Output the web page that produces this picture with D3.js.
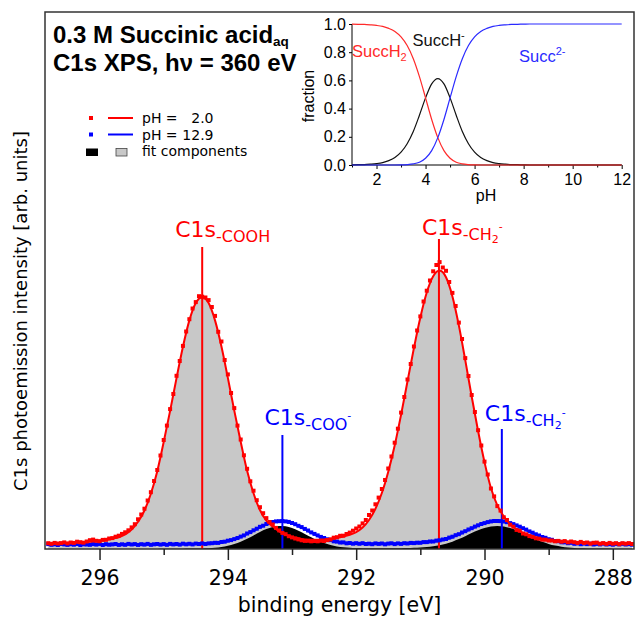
<!DOCTYPE html>
<html>
<head>
<meta charset="utf-8">
<script src="https://d3js.org/d3.v7.min.js"></script>
<style>
body { margin: 0; background: #fff; }
svg { display: block; }
</style>
</head>
<body>
<div id="chart"></div>
<script>
var width = 636;
var height = 619;

// measured points: binding energy grid 296.80 -> 287.70 eV, 0.05 eV steps
var dataStart = 296.8, dataStep = 0.05;
var spectrumPH2 = [
    5.8, 5.2, 6.1, 5.5, 5.9, 6.6, 5.6, 6.5, 6.1, 7.3,
    6.8, 6.3, 7.5, 8.8, 9.4, 8.2, 7.8, 9.1, 9.2, 10.5,
    10.9, 12.3, 13.3, 15.1, 16.7, 18.7, 21.6, 24.8, 29.7, 34.5,
    40.3, 48.5, 56.8, 68.0, 79.0, 93.5, 109.0, 123.4, 139.9, 155.0,
    173.2, 188.0, 203.1, 217.5, 229.8, 240.5, 246.9, 252.8, 252.3, 251.5,
    248.9, 242.0, 233.1, 217.2, 207.5, 189.0, 174.6, 156.0, 140.9, 123.4,
    109.5, 93.7, 80.2, 67.7, 58.3, 48.8, 41.8, 35.8, 30.9, 27.0,
    24.5, 21.1, 18.6, 16.1, 14.8, 12.8, 11.6, 10.5, 9.6, 8.7,
    8.1, 8.2, 7.7, 8.0, 7.7, 8.3, 8.0, 8.9, 9.6, 11.3,
    11.8, 13.2, 13.3, 15.0, 16.4, 18.3, 20.5, 22.5, 25.6, 29.0,
    34.0, 38.5, 44.7, 51.4, 60.0, 69.0, 80.5, 92.5, 106.3, 120.3,
    136.4, 152.0, 169.5, 185.0, 202.5, 218.5, 232.6, 247.5, 258.3, 268.5,
    277.7, 284.0, 286.9, 281.5, 278.2, 267.0, 256.1, 243.0, 226.4, 210.0,
    190.9, 173.0, 154.0, 137.0, 118.8, 103.5, 87.4, 74.5, 60.5, 52.6,
    42.9, 38.4, 31.7, 29.0, 24.3, 22.3, 19.1, 18.2, 15.5, 14.7,
    12.9, 12.1, 10.7, 10.4, 9.4, 9.3, 8.5, 8.5, 7.7, 8.1,
    7.3, 7.9, 6.7, 7.5, 6.8, 6.1, 7.1, 6.1, 6.5, 5.4,
    6.2, 6.4, 5.3, 5.9, 5.1, 6.1, 5.3, 5.8, 4.8, 5.8,
    5.3, 5.9, 5.0
];
var spectrumPH12 = [
    4.9, 4.2, 4.7, 4.0, 5.1, 4.6, 4.1, 4.8, 4.3, 5.0,
    3.9, 4.7, 4.5, 4.2, 4.9, 4.4, 5.1, 4.0, 4.8, 4.3,
    4.6, 5.0, 4.1, 4.7, 4.2, 5.1, 4.5, 4.9, 4.1, 4.8,
    4.4, 5.1, 4.2, 4.7, 5.0, 4.4, 4.9, 4.2, 5.1, 4.6,
    5.0, 4.4, 5.3, 4.7, 5.2, 4.6, 5.4, 5.0, 5.6, 5.0,
    5.6, 5.8, 6.2, 6.1, 7.0, 7.3, 8.3, 8.9, 9.9, 11.0,
    12.4, 13.6, 15.5, 16.9, 18.7, 20.3, 22.2, 23.3, 25.0, 25.9,
    27.0, 27.6, 27.8, 28.0, 27.6, 27.1, 26.0, 24.8, 23.2, 21.9,
    20.1, 18.5, 16.6, 15.1, 13.6, 12.1, 11.0, 9.7, 8.9, 7.7,
    7.4, 6.5, 6.6, 5.7, 6.0, 5.3, 5.8, 5.2, 5.8, 5.0,
    5.3, 4.8, 5.6, 5.1, 5.5, 4.7, 5.4, 5.7, 4.9, 5.6,
    5.1, 5.8, 5.5, 6.1, 5.9, 6.3, 6.2, 6.9, 6.9, 7.5,
    7.5, 8.4, 8.7, 9.5, 10.0, 11.4, 12.3, 13.8, 14.8, 16.5,
    17.8, 19.5, 20.8, 22.4, 23.7, 25.0, 25.9, 26.9, 27.6, 28.0,
    28.0, 27.9, 27.5, 26.8, 25.9, 24.9, 23.6, 22.3, 20.8, 19.4,
    17.6, 16.3, 14.7, 13.5, 12.0, 11.2, 9.8, 9.2, 8.0, 7.8,
    6.7, 6.7, 5.8, 6.2, 5.2, 5.6, 4.8, 5.4, 4.9, 5.4,
    4.5, 5.1, 4.6, 5.3, 4.5, 4.9, 4.3, 5.1, 4.6, 5.2,
    4.5, 4.9, 4.3
];

// fits: 296.8 -> 287.7 eV, 0.1 eV steps
var fitStart = 296.8, fitStep = 0.1;
var fitPH2 = [
    5.5, 5.6, 5.8, 6.1, 6.4, 6.7, 7.1, 7.6, 8.2, 9.0,
    10.3, 11.8, 14.7, 19.4, 27.2, 38.5, 55.3, 77.8, 107.0, 138.1,
    170.9, 202.3, 228.6, 245.9, 251.8, 245.9, 228.6, 202.5, 171.1, 138.4,
    107.3, 78.2, 55.8, 39.0, 28.3, 22.5, 17.6, 14.3, 12.1, 10.8,
    9.6, 9.3, 9.2, 9.5, 10.2, 11.1, 12.4, 14.2, 16.9, 21.4,
    29.0, 40.2, 56.0, 77.3, 103.5, 134.4, 167.7, 201.0, 231.6, 256.5,
    272.7, 278.4, 271.7, 252.6, 223.6, 188.9, 152.5, 118.0, 86.9, 61.0,
    43.7, 32.7, 24.7, 19.7, 16.2, 13.7, 11.6, 10.1, 9.1, 8.2,
    7.6, 7.1, 6.7, 6.4, 6.1, 5.9, 5.7, 5.6, 5.5, 5.4,
    5.4, 5.3
];
var fitPH12 = [
    4.5, 4.5, 4.5, 4.5, 4.5, 4.5, 4.5, 4.5, 4.5, 4.5,
    4.5, 4.5, 4.5, 4.6, 4.6, 4.6, 4.6, 4.6, 4.7, 4.7,
    4.7, 4.8, 4.9, 5.0, 5.1, 5.3, 5.8, 6.5, 7.7, 9.4,
    11.8, 14.8, 18.1, 21.5, 24.4, 26.5, 27.5, 27.2, 25.5, 22.8,
    19.6, 16.2, 13.0, 10.5, 8.5, 7.1, 6.2, 5.8, 5.5, 5.3,
    5.2, 5.2, 5.2, 5.2, 5.2, 5.3, 5.4, 5.7, 6.1, 6.6,
    7.3, 8.3, 9.7, 11.8, 14.4, 17.3, 20.4, 23.2, 25.5, 27.1,
    27.6, 27.0, 25.4, 23.1, 20.3, 17.2, 14.3, 11.7, 9.6, 7.9,
    6.8, 6.0, 5.5, 5.2, 5.1, 5.0, 4.9, 4.9, 4.8, 4.8,
    4.8, 4.7
];
// pH 12.9 fit components (black), without background
var componentsPH12 = [
    0, 0, 0, 0, 0, 0, 0, 0, 0, 0,
    0, 0, 0, 0.1, 0.1, 0.1, 0.1, 0.1, 0.2, 0.2,
    0.2, 0.3, 0.4, 0.5, 0.6, 0.8, 1.3, 2.0, 3.2, 4.9,
    7.3, 10.3, 13.6, 17.0, 19.9, 22.0, 23.0, 22.7, 21.0, 18.3,
    15.1, 11.7, 8.5, 6.0, 4.0, 2.6, 1.7, 1.3, 1.0, 0.8,
    0.7, 0.7, 0.7, 0.7, 0.7, 0.8, 0.9, 1.2, 1.6, 2.1,
    2.8, 3.8, 5.2, 7.3, 9.9, 12.8, 15.9, 18.7, 21.0, 22.6,
    23.1, 22.5, 20.9, 18.6, 15.8, 12.7, 9.8, 7.2, 5.1, 3.4,
    2.3, 1.5, 1.0, 0.7, 0.6, 0.5, 0.4, 0.4, 0.3, 0.3,
    0.3, 0.2
];

var xTicks = [296, 294, 292, 290, 288];
var xMinorTicks = [295, 293, 291, 289];

// inset: speciation vs pH (1 -> 12, 0.25 steps)
var pHStart = 1, pHStep = 0.25;
var fracSuccH2 = [
    0.999, 0.998, 0.997, 0.994, 0.990, 0.983, 0.969, 0.947, 0.908, 0.847,
    0.754, 0.627, 0.476, 0.323, 0.194, 0.102, 0.048, 0.020, 0.008, 0.003,
    0.001, 0, 0, 0, 0, 0, 0, 0, 0, 0,
    0, 0, 0, 0, 0, 0, 0, 0, 0, 0,
    0, 0, 0, 0, 0
];
var fracSuccH = [
    0.001, 0.002, 0.003, 0.006, 0.010, 0.017, 0.031, 0.053, 0.091, 0.151,
    0.238, 0.353, 0.476, 0.575, 0.613, 0.575, 0.476, 0.353, 0.238, 0.151,
    0.091, 0.053, 0.031, 0.017, 0.010, 0.006, 0.003, 0.002, 0.001, 0,
    0, 0, 0, 0, 0, 0, 0, 0, 0, 0,
    0, 0, 0, 0, 0
];
var fracSucc = [
    0, 0, 0, 0, 0, 0, 0, 0, 0.001, 0.003,
    0.008, 0.020, 0.048, 0.102, 0.194, 0.323, 0.476, 0.627, 0.754, 0.847,
    0.908, 0.947, 0.969, 0.983, 0.990, 0.994, 0.997, 0.998, 0.999, 1,
    1, 1, 1, 1, 1, 1, 1, 1, 1, 1,
    1, 1, 1, 1, 1
];
var insetXTicks = [2, 4, 6, 8, 10, 12];
var insetXMinor = [1, 3, 5, 7, 9, 11];
var insetYTicks = [0, 0.2, 0.4, 0.6, 0.8, 1.0];

var RED = "#ff0000", BLUE = "#0000ff", GRAY = "#c8c8c8";
var SANS = "'DejaVu Sans', Verdana, sans-serif";
var HELV = "'Liberation Sans', Arial, Helvetica, sans-serif";

var svg = d3.select("#chart")
    .append("svg")
    .attr("width", width)
    .attr("height", height);

var plot = { left: 45, top: 12, right: 634, bottom: 549 };

var x = d3.scaleLinear().domain([296.85, 287.67]).range([plot.left, plot.right]);
var y = d3.scaleLinear().domain([0, 537]).range([plot.bottom, plot.top]);

function dataE(i) { return dataStart - i * dataStep; }
function fitE(i) { return fitStart - i * fitStep; }

svg.append("clipPath").attr("id", "clip")
    .append("rect")
    .attr("x", plot.left).attr("y", plot.top)
    .attr("width", plot.right - plot.left).attr("height", plot.bottom - plot.top);

var g = svg.append("g").attr("clip-path", "url(#clip)");

var area = d3.area()
    .x(function (d, i) { return x(fitE(i)); })
    .y0(y(0))
    .y1(function (d) { return y(d); })
    .curve(d3.curveMonotoneX);
var line = d3.line()
    .x(function (d, i) { return x(fitE(i)); })
    .y(function (d) { return y(d); })
    .curve(d3.curveMonotoneX);

// fit components
g.append("path").datum(fitPH2).attr("d", area).attr("fill", GRAY);
g.append("path").datum(componentsPH12).attr("d", area).attr("fill", "#000");
g.append("path").datum(fitPH12).attr("d", line)
    .attr("fill", "none").attr("stroke", BLUE).attr("stroke-width", 2);

// peak position markers + labels
function peakMark(E, top, color, dx, dy, parts) {
    svg.append("line")
        .attr("x1", x(E)).attr("x2", x(E))
        .attr("y1", y(top)).attr("y2", y(0))
        .attr("stroke", color).attr("stroke-width", 2);
    var t = svg.append("text")
        .attr("x", x(E) + dx).attr("y", y(top) + dy)
        .attr("fill", color)
        .style("font-family", SANS);
    parts.forEach(function (p) {
        t.append("tspan").text(p[0]).attr("font-size", p[1]).attr("dy", p[2]);
    });
}
peakMark(294.40, 302, RED, -27, -10, [["C1s", 22, 0], ["-COOH", 16, 5]]);
peakMark(290.71, 310, RED, -17, -4, [["C1s", 22, 0], ["-CH", 16, 5], ["2", 11, 3], ["-", 11, -13]]);
peakMark(293.15, 114, BLUE, -18, -10, [["C1s", 22, 0], ["-COO", 16, 5], ["-", 11, -11]]);
peakMark(289.73, 120, BLUE, -17, -8, [["C1s", 22, 0], ["-CH", 16, 5], ["2", 11, 3], ["-", 11, -13]]);

// measured points
var pts = svg.append("g").attr("clip-path", "url(#clip)");
pts.selectAll(".p12").data(spectrumPH12).enter().append("rect")
    .attr("x", function (d, i) { return x(dataE(i)) - 2; })
    .attr("y", function (d) { return y(d) - 2; })
    .attr("width", 4).attr("height", 4)
    .attr("fill", BLUE);
pts.selectAll(".p2").data(spectrumPH2).enter().append("rect")
    .attr("x", function (d, i) { return x(dataE(i)) - 2; })
    .attr("y", function (d) { return y(d) - 2; })
    .attr("width", 4).attr("height", 4)
    .attr("fill", RED);
pts.append("path").datum(fitPH2).attr("d", line)
    .attr("fill", "none").attr("stroke", RED).attr("stroke-width", 2);

// frame
svg.append("rect")
    .attr("x", plot.left).attr("y", plot.top)
    .attr("width", plot.right - plot.left).attr("height", plot.bottom - plot.top)
    .attr("fill", "none").attr("stroke", "#333").attr("stroke-width", 1.5);

// x axis
var xAxis = svg.append("g")
    .attr("transform", "translate(0," + plot.bottom + ")")
    .call(d3.axisBottom(x).tickValues(xTicks).tickSize(11).tickPadding(10).tickFormat(d3.format("d")));
xAxis.select(".domain").remove();
xAxis.selectAll("line").attr("stroke", "#222").attr("stroke-width", 1.5);
xAxis.selectAll("text").style("font-family", SANS).style("font-size", "20.5px").attr("fill", "#000");
var xMinor = svg.append("g")
    .attr("transform", "translate(0," + plot.bottom + ")")
    .call(d3.axisBottom(x).tickValues(xMinorTicks).tickSize(6).tickFormat(""));
xMinor.select(".domain").remove();
xMinor.selectAll("line").attr("stroke", "#222").attr("stroke-width", 1.5);

svg.append("text")
    .attr("x", (plot.left + plot.right) / 2).attr("y", 612)
    .attr("text-anchor", "middle")
    .style("font-family", SANS).style("font-size", "20.5px")
    .text("binding energy [eV]");

svg.append("text")
    .attr("transform", "translate(27,311) rotate(-90)")
    .attr("text-anchor", "middle")
    .style("font-family", SANS).style("font-size", "18px")
    .text("C1s photoemission intensity [arb. units]");

// title
var t1 = svg.append("text").attr("x", 53).attr("y", 43)
    .style("font-family", HELV).style("font-weight", "bold").style("font-size", "24px");
t1.append("tspan").text("0.3 M Succinic acid");
t1.append("tspan").text("aq").attr("font-size", 13.5).attr("dy", 2.5);
svg.append("text").attr("x", 53).attr("y", 70.5)
    .style("font-family", HELV).style("font-weight", "bold").style("font-size", "24px")
    .text("C1s XPS, h\u03bd = 360 eV");

// legend
var lg = svg.append("g").style("font-family", SANS).style("font-size", "14px");
[[RED, "2.0", 118], [BLUE, "12.9", 134.5]].forEach(function (r) {
    lg.append("rect").attr("x", 89).attr("y", r[2] - 2).attr("width", 4).attr("height", 4).attr("fill", r[0]);
    lg.append("line").attr("x1", 108).attr("x2", 133).attr("y1", r[2]).attr("y2", r[2])
        .attr("stroke", r[0]).attr("stroke-width", 2);
    lg.append("text").attr("x", 142).attr("y", r[2] + 5.3).text("pH =");
    lg.append("text").attr("x", 213.5).attr("y", r[2] + 5.3).attr("text-anchor", "end").text(r[1]);
});
lg.append("rect").attr("x", 86).attr("y", 148.5).attr("width", 12).attr("height", 7.5).attr("fill", "#000");
lg.append("rect").attr("x", 116).attr("y", 148.5).attr("width", 11).attr("height", 7.5)
    .attr("fill", GRAY).attr("stroke", "#444").attr("stroke-width", 0.8);
lg.append("text").attr("x", 142).attr("y", 156).text("fit components");

// inset
var ix = d3.scaleLinear().domain([1, 12]).range([352, 621.7]);
var iy = d3.scaleLinear().domain([0, 1]).range([165, 24]);
var inset = svg.append("g");
function pHat(i) { return pHStart + i * pHStep; }
var iline = d3.line()
    .x(function (d, i) { return ix(pHat(i)); })
    .y(function (d) { return iy(d); })
    .curve(d3.curveMonotoneX);

var ixAxis = inset.append("g").attr("transform", "translate(0,165)")
    .call(d3.axisBottom(ix).tickValues(insetXTicks).tickSize(4).tickPadding(5));
ixAxis.select(".domain").attr("d", "M" + ix(1) + ",0H" + ix(12));
var ixMinor = inset.append("g").attr("transform", "translate(0,165)")
    .call(d3.axisBottom(ix).tickValues(insetXMinor).tickSize(2.5).tickFormat(""));
ixMinor.select(".domain").remove();
var iyAxis = inset.append("g").attr("transform", "translate(" + ix(1) + ",0)")
    .call(d3.axisLeft(iy).tickValues(insetYTicks).tickSize(3).tickPadding(3).tickFormat(d3.format(".1f")));
iyAxis.select(".domain").attr("d", "M0," + iy(0) + "V" + iy(1));
inset.selectAll(".tick text").style("font-family", HELV).style("font-size", "16px").attr("fill", "#000");

inset.append("path").datum(fracSuccH).attr("d", iline)
    .attr("fill", "none").attr("stroke", "#111").attr("stroke-width", 1.2);
inset.append("path").datum(fracSuccH2).attr("d", iline)
    .attr("fill", "none").attr("stroke", "#ff2a2a").attr("stroke-width", 1.2);
inset.append("path").datum(fracSucc).attr("d", iline)
    .attr("fill", "none").attr("stroke", "#2a2aff").attr("stroke-width", 1.2);

inset.append("text").attr("x", 486).attr("y", 201).attr("text-anchor", "middle")
    .style("font-family", HELV).style("font-size", "16px").text("pH");
inset.append("text").attr("transform", "translate(314,96) rotate(-90)").attr("text-anchor", "middle")
    .style("font-family", HELV).style("font-size", "16px").text("fraction");

function insetLabel(px, py, color, parts) {
    var t = inset.append("text").attr("x", px).attr("y", py).attr("fill", color)
        .style("font-family", HELV).style("font-size", "16.5px");
    parts.forEach(function (p) {
        t.append("tspan").text(p[0]).attr("font-size", p[1]).attr("dy", p[2]);
    });
}
insetLabel(352, 57, "#ff2a2a", [["SuccH", 16.5, 0], ["2", 11, 4]]);
insetLabel(412.5, 46, "#111", [["SuccH", 16.5, 0], ["-", 11, -7]]);
insetLabel(519, 62, "#2a2aff", [["Succ", 16.5, 0], ["2-", 11, -7]]);
</script>
</body>
</html>
